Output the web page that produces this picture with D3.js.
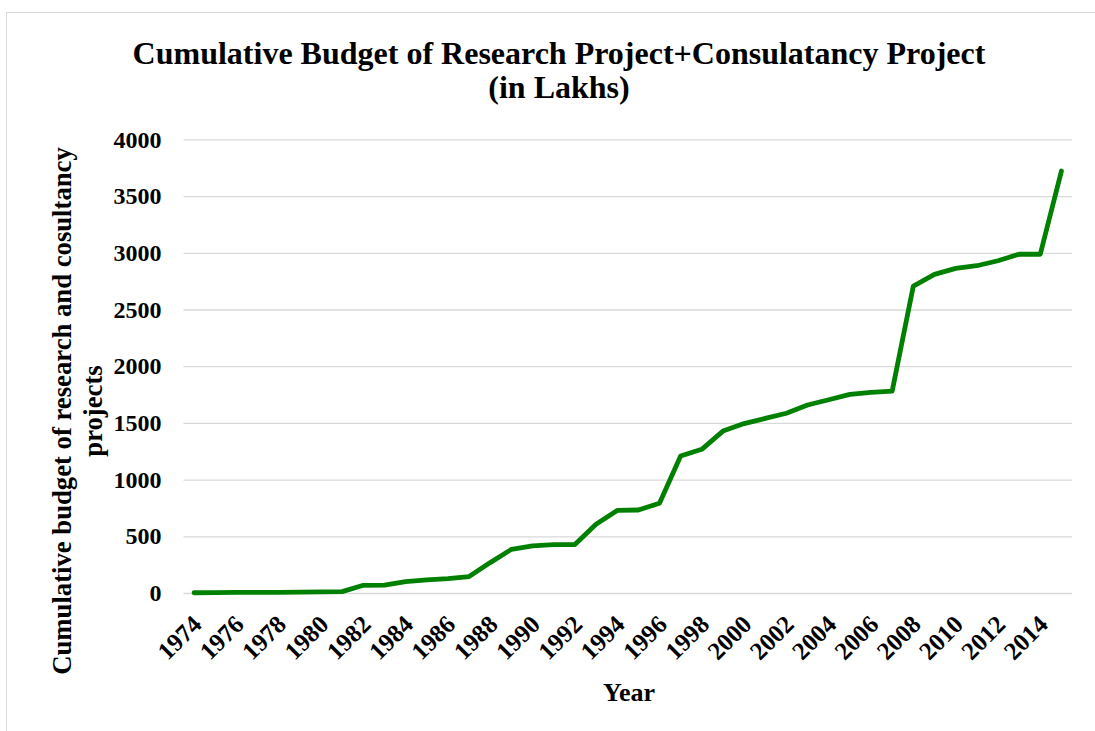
<!DOCTYPE html>
<html><head><meta charset="utf-8">
<script src="https://cdn.jsdelivr.net/npm/d3@7"></script>
<style>
html,body{margin:0;padding:0;background:#fff;}
svg{display:block;}
text{font-family:"Liberation Serif","Times New Roman",serif;font-weight:bold;fill:#000;}
</style></head>
<body>
<svg id="chart" width="1095" height="731"></svg>
<script>
const years = [1974,1975,1976,1977,1978,1979,1980,1981,1982,1983,1984,1985,1986,1987,1988,1989,1990,1991,1992,1993,1994,1995,1996,1997,1998,1999,2000,2001,2002,2003,2004,2005,2006,2007,2008,2009,2010,2011,2012,2013,2014,2015];
const budget = [2,4,5,5,6,7,10,12,68,70,100,115,127,145,268,385,415,427,427,606,728,732,791,1208,1267,1428,1494,1540,1585,1658,1704,1752,1770,1781,2707,2810,2863,2886,2930,2987,2987,3721];
const yTicks = [0,500,1000,1500,2000,2500,3000,3500,4000];
const xTickYears = years.filter((d,i)=>i%2===0 && d<=2014);
const titleLines = ["Cumulative Budget of Research Project+Consulatancy Project","(in Lakhs)"];
const yTitleLines = ["Cumulative budget of research and cosultancy","projects"];
const xTitle = "Year";

const svg = d3.select("#chart");
svg.append("rect").attr("x",6.5).attr("y",12.5).attr("width",1100).attr("height",730)
  .attr("fill","#fff").attr("stroke","#d9d9d9").attr("stroke-width",1);

const x = d3.scaleBand().domain(years).range([183.5,1072]).padding(0);
const y = d3.scaleLinear().domain([0,4000]).range([593,139.4]);

// gridlines
const yAxis = d3.axisLeft(y).tickValues(yTicks).tickSize(-(1072-183.5)).tickPadding(22).tickFormat(d3.format("d"));
const gy = svg.append("g").attr("transform","translate(183.5,0)").call(yAxis);
gy.select(".domain").remove();
gy.selectAll(".tick line").attr("stroke","#d9d9d9").attr("stroke-width",1.3);
gy.selectAll(".tick text").style("font-size","24px").attr("dy","0.32em");

// x axis
const xAxis = d3.axisBottom(x).tickValues(xTickYears).tickSize(0).tickPadding(0);
const gx = svg.append("g").attr("transform","translate(0,593)").call(xAxis);
gx.select(".domain").remove();
gx.selectAll(".tick text").style("font-size","25px")
  .attr("text-anchor","end").attr("dy","0")
  .attr("transform","translate(9,33) rotate(-45)").attr("x",0).attr("y",0);

// line
const line = d3.line().x((d,i)=>x(years[i])+x.bandwidth()/2).y(d=>y(d));
svg.append("path").datum(budget).attr("d",line)
  .attr("fill","none").attr("stroke","#008000").attr("stroke-width",4.8)
  .attr("stroke-linejoin","round").attr("stroke-linecap","round");

// title
const t = svg.append("text").attr("text-anchor","middle").style("font-size","32px");
t.append("tspan").attr("x",559).attr("y",64).text(titleLines[0]);
t.append("tspan").attr("x",559).attr("y",98).text(titleLines[1]);

// y title
const yt = svg.append("text").attr("text-anchor","middle").style("font-size","26.7px")
  .attr("transform","translate(0,411) rotate(-90)");
yt.append("tspan").attr("x",0).attr("y",71).text(yTitleLines[0]);
yt.append("tspan").attr("x",0).attr("y",102).text(yTitleLines[1]);

// x title
svg.append("text").attr("text-anchor","middle").style("font-size","26px")
  .attr("x",629).attr("y",701).text(xTitle);
</script>
</body></html>
